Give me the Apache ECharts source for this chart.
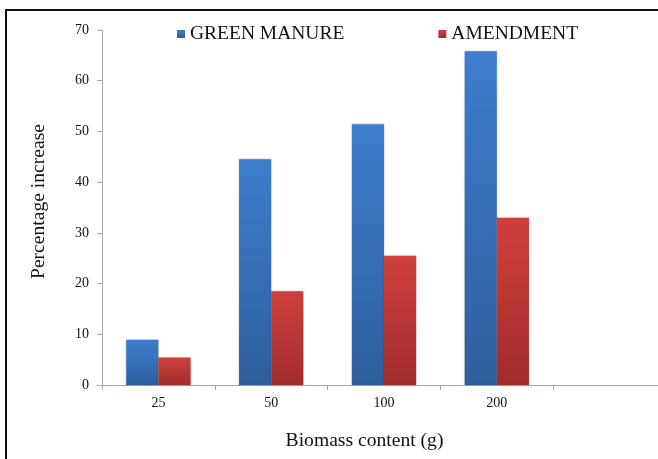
<!DOCTYPE html>
<html lang="en">
<head>
    <meta charset="UTF-8">
    <title>Biomass content</title>
    <style>
        html, body { margin: 0; padding: 0; background: #fff; overflow: hidden; }
        #chart { width: 666px; height: 459px; }
    </style>
</head>
<body>
<div id="chart"></div>
<script src="https://cdn.jsdelivr.net/npm/echarts@6/dist/echarts.min.js"></script>
<script>
    var categories = ['25', '50', '100', '200', ''];
    var greenManure = [8.9, 44.5, 51.4, 65.8, null];
    var amendment = [5.4, 18.5, 25.5, 33.0, null];

    var serif = 'Liberation Serif, Times New Roman, serif';

    var grad = function (top, bottom) {
        return {
            type: 'linear', x: 0, y: 0, x2: 0, y2: 1,
            colorStops: [{offset: 0, color: top}, {offset: 1, color: bottom}]
        };
    };

    var option = {
        animation: false,
        backgroundColor: '#fff',
        graphic: [{
            type: 'rect',
            shape: {x: 6, y: 10, width: 700, height: 500},
            style: {fill: 'none', stroke: '#111', lineWidth: 2},
            silent: true
        }],
        legend: {
            left: 172,
            top: 19,
            itemWidth: 8,
            itemHeight: 8,
            itemGap: 94,
            icon: 'rect',
            textStyle: {fontFamily: serif, fontSize: 19.5, color: '#111'},
            data: ['GREEN MANURE', 'AMENDMENT']
        },
        grid: {
            left: 102,
            right: 0,
            top: 30,
            bottom: 74
        },
        xAxis: {
            type: 'category',
            data: categories,
            name: 'Biomass content (g)',
            nameLocation: 'middle',
            nameGap: 46,
            nameTextStyle: {fontFamily: serif, fontSize: 19.6, color: '#111', padding: [0, 39, 0, 0]},
            axisLine: {lineStyle: {color: '#a6a6a6'}},
            axisTick: {show: true, length: 5, lineStyle: {color: '#a6a6a6'}},
            axisLabel: {fontFamily: serif, fontSize: 14, color: '#111', margin: 11}
        },
        yAxis: {
            type: 'value',
            min: 0,
            max: 70,
            interval: 10,
            name: 'Percentage increase',
            nameLocation: 'middle',
            nameGap: 53,
            nameTextStyle: {fontFamily: serif, fontSize: 19.6, color: '#111', padding: [0, 0, 0, 12]},
            axisLine: {show: true, lineStyle: {color: '#a6a6a6'}},
            axisTick: {show: true, length: 5, lineStyle: {color: '#a6a6a6'}},
            axisLabel: {fontFamily: serif, fontSize: 14, color: '#111', margin: 13},
            splitLine: {show: false}
        },
        series: [
            {
                name: 'GREEN MANURE',
                type: 'bar',
                data: greenManure,
                barGap: 0,
                barCategoryGap: '43%',
                itemStyle: {
                    color: grad('#3e7ecd', '#2d5e9c'),
                    shadowColor: 'rgba(0,0,0,0.25)',
                    shadowBlur: 2
                }
            },
            {
                name: 'AMENDMENT',
                type: 'bar',
                data: amendment,
                itemStyle: {
                    color: grad('#cf3f3c', '#a02d2b'),
                    shadowColor: 'rgba(0,0,0,0.25)',
                    shadowBlur: 2
                }
            }
        ]
    };

    var myChart = echarts.init(document.getElementById('chart'));
    myChart.setOption(option);
</script>
</body>
</html>
